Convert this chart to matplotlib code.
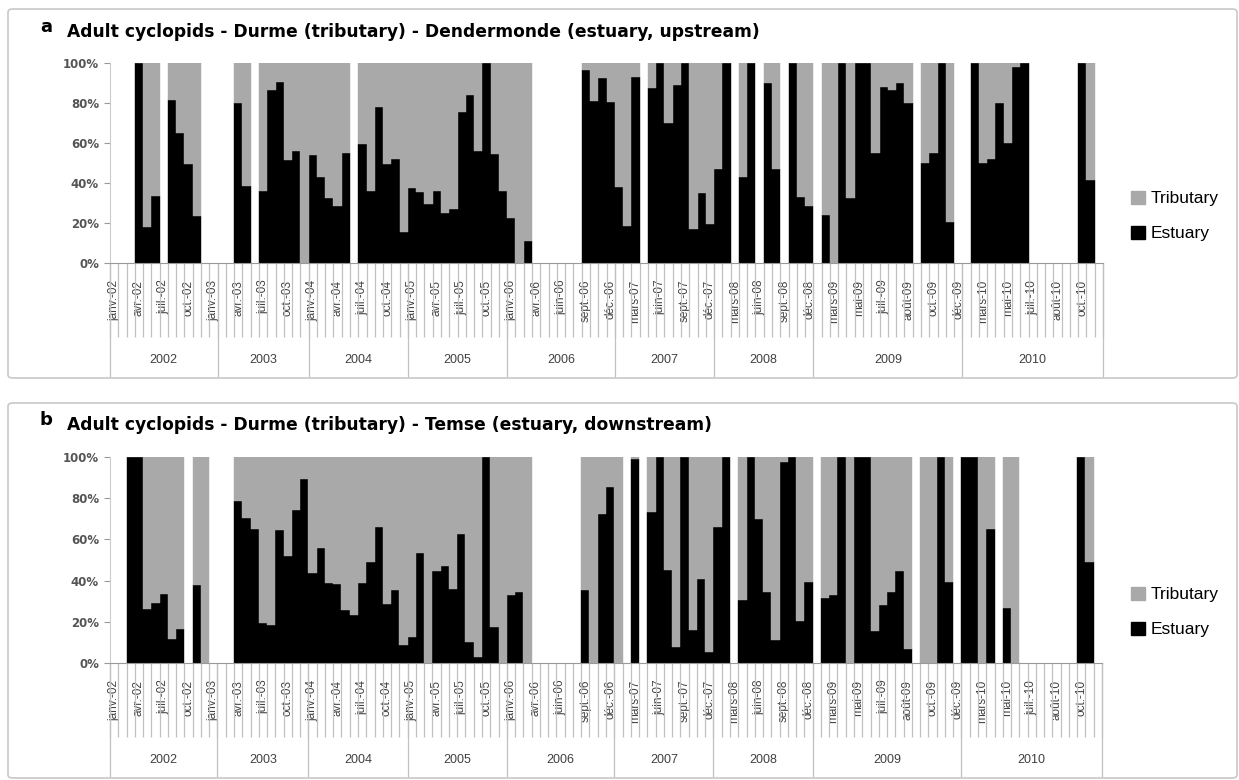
import numpy as np
import matplotlib
matplotlib.use("Agg")
import matplotlib.pyplot as plt
from matplotlib.patches import FancyBboxPatch, Patch

nan = np.nan

# x axis: sampling months, a label every 3rd category
month_labels = ['janv.-02', 'avr.-02', 'juil.-02', 'oct.-02', 'janv.-03', 'avr.-03', 'juil.-03', 'oct.-03',
                'janv.-04', 'avr.-04', 'juil.-04', 'oct.-04', 'janv.-05', 'avr.-05', 'juil.-05', 'oct.-05',
                'janv.-06', 'avr.-06', 'juin-06', 'sept.-06', 'déc.-06', 'mars-07', 'juin-07', 'sept.-07',
                'déc.-07', 'mars-08', 'juin-08', 'sept.-08', 'déc.-08', 'mars-09', 'mai-09', 'juil.-09',
                'août-09', 'oct.-09', 'déc.-09', 'mars-10', 'mai-10', 'juil.-10', 'août-10', 'oct.-10']
years = ['2002', '2003', '2004', '2005', '2006', '2007', '2008', '2009', '2010']
year_counts = [13, 11, 12, 12, 13, 12, 12, 18, 17]

# % estuary per category (nan = no sample), tributary = rest
estuary_a = [nan, nan, nan, 100, 18, 33.5, nan, 81.5, 65, 49.5, 23.5, nan, nan, nan, nan,
             80, 38.5, nan, 36, 86.5, 90.5, 51.5, 56, 0,
             54, 43, 32.5, 28.5, 55, nan, 59.5, 36, 78, 49.5, 52, 15.5,
             37.5, 35.5, 29.5, 36, 25, 27, 75.5, 84, 56, 100, 54.5, 36,
             22.5, 0, 11, nan, nan, nan, nan, nan, nan, 96.5, 81, 92.5, 80.5,
             38, 18.5, 93, nan, 87.5, 100, 70, 89, 100, 17, 35, 19.5,
             47, 100, nan, 43, 100, nan, 90, 47, nan, 100, 33, 28.5,
             nan, 24, 0, 100, 32.5, 100, 100, 55, 88, 86.5, 90, 80, nan, 50, 55, 100, 20.5, nan,
             nan, 100, 50, 52, 80, 60, 98, 100, nan, nan, nan, nan, nan, nan, 100, 41.5, nan]

estuary_b = [nan, nan, 100, 100, 26, 29, 33.5, 11.5, 16.5, nan, 38, 0, nan,
             nan, nan, 78.5, 70.5, 65, 19.5, 18.5, 64.5, 52, 74.5, 89.5,
             43.5, 56, 39, 38.5, 25.5, 23.5, 39, 49, 66, 28.5, 35.5, 8.5,
             12.5, 53.5, 0, 44.5, 47, 36, 62.5, 10, 3, 100, 17.5, 0,
             33, 34.5, 0, nan, nan, nan, nan, nan, nan, 35.5, 0, 72.5, 85.5,
             0, nan, 99, nan, 73.5, 100, 45, 8, 100, 16, 41, 5.5,
             66, 100, nan, 30.5, 100, 70, 34.5, 11, 97.5, 100, 20.5, 39.5,
             nan, 31.5, 33, 100, 0, 100, 100, 15.5, 28, 34.5, 44.5, 7, nan, 0, 0, 100, 39.5, nan,
             100, 100, 0, 65, nan, 26.5, 0, nan, nan, nan, nan, nan, nan, nan, 100, 49, nan]

W, H = 1239, 780
GREY = '#a9a9a9'
LINE = '#c0c0c0'
TXT = '#404040'


# draws one stacked percentage panel with the two level category axis
def draw_panel(fig, box, estuary, letter, title, title_y, legend_y):
    left, top, right, bottom = box
    ax = fig.add_axes([left / W, 1 - bottom / H, (right - left) / W, (bottom - top) / H])
    ax_h = bottom - top

    est = np.array(estuary, dtype=float)
    x = np.arange(len(est))
    ok = ~np.isnan(est)
    ax.bar(x[ok], est[ok], width=1.0, color='black', edgecolor='black', linewidth=0.3)
    ax.bar(x[ok], 100 - est[ok], bottom=est[ok], width=1.0, color=GREY, edgecolor=GREY, linewidth=0.3)

    ax.set_xlim(-0.5, len(est) - 0.5)
    ax.set_ylim(0, 100)
    ax.set_yticks([0, 20, 40, 60, 80, 100])
    ax.set_yticklabels(['%d%%' % v for v in [0, 20, 40, 60, 80, 100]])
    ax.tick_params(axis='y', length=4, color='#999999', labelsize=8.5, labelcolor='#555555', pad=4)
    for lab in ax.get_yticklabels():
        lab.set_fontfamily('DejaVu Sans')
        lab.set_fontweight('bold')

    ax.set_xticks(x[::3])
    ax.set_xticklabels(month_labels, rotation=90, fontsize=8.5, color=TXT)
    ax.tick_params(axis='x', length=0, pad=12)

    for s in ['top', 'right']:
        ax.spines[s].set_visible(False)
    ax.spines['left'].set_color('#cccccc')
    ax.spines['bottom'].set_color('#999999')

    # category separators and year separators below the axis
    tr = ax.get_xaxis_transform()
    ax.vlines(np.arange(len(est) + 1) - 0.5, -74 / ax_h, 0, transform=tr, clip_on=False,
              color=LINE, linewidth=0.9)
    edges = np.concatenate([[0], np.cumsum(year_counts)]) - 0.5
    ax.vlines(edges, -114 / ax_h, 0, transform=tr, clip_on=False, color=LINE, linewidth=0.9)
    for yr, a, b in zip(years, edges[:-1], edges[1:]):
        ax.text((a + b) / 2, -97 / ax_h, yr, transform=tr, ha='center', va='center',
                fontsize=9, color=TXT)

    fig.text(40 / W, 1 - (title_y - 5) / H, letter, fontsize=13, fontweight='bold', va='center',
             family='DejaVu Sans')
    fig.text(67 / W, 1 - title_y / H, title, fontsize=12.3, fontweight='bold', va='center',
             family='DejaVu Sans')

    handles = [Patch(color=GREY, label='Tributary'), Patch(color='black', label='Estuary')]
    fig.legend(handles=handles, loc='center left', bbox_to_anchor=(1124 / W, 1 - legend_y / H),
               frameon=False, fontsize=12.5, handlelength=0.8, handleheight=0.8,
               handletextpad=0.35, labelspacing=1.1, borderaxespad=0)
    return ax


def main():
    plt.rcParams['font.family'] = ['Liberation Sans', 'DejaVu Sans']
    fig = plt.figure(figsize=(W / 100, H / 100), dpi=100)

    for y0, y1 in [(9, 378), (403, 778)]:
        fig.add_artist(FancyBboxPatch((8 / W, 1 - y1 / H), 1229 / W, (y1 - y0) / H,
                                      boxstyle='round,pad=0,rounding_size=0.004',
                                      transform=fig.transFigure, fill=False,
                                      edgecolor='#c8c8c8', linewidth=1.2))

    draw_panel(fig, (110, 63, 1103, 263), estuary_a, 'a',
               'Adult cyclopids - Durme (tributary) - Dendermonde (estuary, upstream)', 32, 216)
    draw_panel(fig, (110, 457, 1102, 663), estuary_b, 'b',
               'Adult cyclopids - Durme (tributary) - Temse (estuary, downstream)', 425, 612)

    fig.savefig('out.png', dpi=100, facecolor='white')


if __name__ == "__main__":
    main()
